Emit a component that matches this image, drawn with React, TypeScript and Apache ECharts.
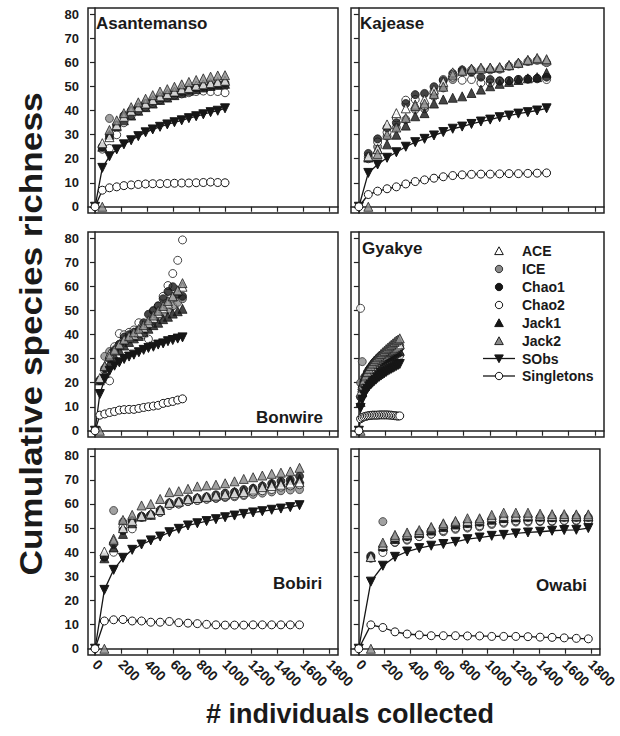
import React, { useEffect, useRef } from "react";
import * as echarts from "echarts";

const SERIES_NAMES = ["ACE", "ICE", "Chao1", "Chao2", "Jack1", "Jack2", "SObs", "Singletons"];
const X_TICKS = [0, 200, 400, 600, 800, 1000, 1200, 1400, 1600, 1800];
const Y_TICKS = [0, 10, 20, 30, 40, 50, 60, 70, 80];
const SITE_NAMES = ["Asantemanso", "Kajease", "Bonwire", "Gyakye", "Bobiri", "Owabi"];

// Asantemanso
const asanX = [0, 56, 111, 167, 222, 278, 333, 389, 444, 500, 556, 611, 667, 722, 778, 833, 889, 944, 1000];
const asanACE = [null, 26.5, 29, 34, 37.5, 40, 41.5, 43, 44.5, 46, 47, 48, 49, 49.5, 50.5, 51, 51.5, 52, 52.5];
const asanICE = [null, 25, 36.8, 33, 37, 39.5, 41, 42.5, 44, 45, 46, 47, 48, 48.5, 49, 49.5, 50, 50.5, 50.5];
const asanChao1 = [null, 25, 29.5, 34, 38, 40, 41.5, 43, 44, 45.5, 46.5, 47.5, 48, 48.8, 49.5, 50, 50.5, 51, 51.5];
const asanChao2 = [null, 24, 24.3, 30, 35, 38, 40, 41.5, 43, 44.5, 45.5, 46.5, 47, 47.5, 48, 48.2, 48, 48, 47.5];
const asanJack1 = [null, 25, 30, 33.5, 36, 38, 40, 41.5, 43, 44.5, 45.5, 46.5, 47.5, 48.3, 49, 49.7, 50.3, 50.8, 51.2];
const asanJack2 = [null, 0, 32, 36, 39, 41.5, 43.5, 45, 46.5, 48, 49, 50, 51, 52, 52.8, 53.5, 54.2, 54.7, 54.8];
const asanSObs = [0, 16.2, 21, 23.9, 26, 27.7, 29.4, 31, 32.2, 33.3, 34.3, 35.2, 36, 36.9, 37.7, 38.5, 39.4, 40, 41];
const asanSingle = [0, 6.9, 7.9, 8.3, 8.8, 9.1, 9.3, 9.5, 9.6, 9.6, 9.7, 9.8, 9.9, 9.9, 10, 10.1, 10.3, 10.1, 10];

// Kajease
const kajX = [0, 72, 143, 215, 286, 358, 430, 501, 573, 644, 716, 788, 859, 931, 1002, 1074, 1146, 1217, 1289, 1360, 1432];
const kajACE = [null, 21, 24, 34.3, 39, 41, 42.6, 44.7, 48.8, 52, 56, 57, 57.5, 57.5, 57.8, 58, 59, 60, 61, 61.5, 61];
const kajICE = [null, 21, 25, 29.4, 33, 36.3, 40.5, 40.8, 46, 49.5, 53, 56.4, 57, 57, 57, 57.3, 58.5, 59.5, 60.5, 61, 60];
const kajChao1 = [null, 22.2, 28.3, 32.9, 35, 43, 46.7, 47.2, 50, 52.6, 55.5, 57, 56, 54, 53, 52.5, 52.5, 53, 53.2, 53.5, 54];
const kajChao2 = [null, 20, 27, 31, 37, 44.4, 44.7, 42, 48, 53, 54, 52.7, 53, 51.6, 51.6, 52.3, 52.5, 53, 53.2, 53.3, 53];
const kajJack1 = [null, 20.5, 24, 26, 30, 33.8, 37.7, 39, 43, 44.7, 45.4, 46, 47.4, 48.8, 50.2, 51.2, 52, 52.8, 53.5, 54, 55.8];
const kajJack2 = [null, 0, 22, 30, 33, 37, 42, 43, 47, 50, 55, 56.5, 57.5, 58, 58, 58.2, 59, 60, 61.2, 62, 61.5];
const kajSObs = [0, 14.1, 17.6, 20.4, 22.7, 25, 26.9, 28.3, 29.7, 31.1, 32.5, 33.4, 34.5, 35.5, 36.3, 37.3, 38, 38.8, 39.4, 40.1, 41];
const kajSingle = [0, 5.1, 6.5, 7.5, 8.3, 9.5, 10.5, 11.2, 11.9, 12.5, 13, 13.3, 13.5, 13.6, 13.6, 13.7, 13.8, 13.8, 13.9, 14, 14.1];

// Bonwire
const bonX = [0, 37, 75, 112, 150, 187, 224, 262, 299, 337, 374, 411, 449, 486, 524, 561, 598, 636, 673];
const bonACE = [null, 22, 27, 32, 34, 36, 38, 39, 40, 41, 43, 45, 47, 49, 51, 53, 56, 58.5, 60];
const bonICE = [null, 21, 31, 33, 34, 36, 38, 39, 40, 41, 42.5, 44, 46, 47.5, 49, 50.5, 52, 53.5, 55];
const bonChao1 = [null, 21, 26, 30, 33.5, 36, 39, 40, 41, 42, 45, 48.5, 50, 52, 55, 58, 60, 57, 56];
const bonChao2 = [null, 21, 25, 20.8, 35, 40.5, 40, 41, 42, 45, 40, 38.2, 50, 52, 56, 60.5, 65.5, 71, 79.5];
const bonJack1 = [null, 21, 24, 28, 31, 33.5, 35.5, 37, 38.5, 39.5, 41, 42.5, 44, 45, 46.5, 47.5, 48.8, 49.8, 50.8];
const bonJack2 = [null, 0, 27, 31, 33.5, 36, 38, 39.5, 41, 42.5, 44, 46, 48, 50, 52, 54, 56, 58.5, 61.5];
const bonSObs = [0, 15.3, 21.6, 25, 27.1, 28.5, 29.9, 30.9, 31.7, 32.7, 33.7, 34.5, 35, 35.9, 36.4, 37.3, 37.8, 38.4, 38.9];
const bonSingle = [0, 6.5, 7, 7.6, 8, 8.6, 8.8, 8.9, 8.9, 9.3, 9.7, 10, 10.3, 10.6, 11.4, 11.8, 12.2, 12.8, 13.3];

// Gyakye
const gyaX = [0, 13, 26, 39, 52, 65, 78, 91, 104, 117, 130, 143, 156, 169, 182, 195, 208, 221, 234, 247, 260, 273, 286, 299, 312];
const gyaACE = [null, 16, 19, 21, 22.5, 24, 25, 26, 27, 28, 28.8, 29.5, 30.2, 30.8, 31.3, 31.8, 32.3, 32.8, 33.2, 33.6, 34, 34.5, 35, 35.5, 36];
const gyaICE = [null, 20, 28.8, 22, 23, 24.5, 25.5, 26.5, 27.5, 28.3, 29, 29.7, 30.3, 31, 31.5, 32, 32.5, 33, 33.4, 33.8, 34.2, 34.6, 35, 35.4, 35.5];
const gyaChao1 = [null, 14, 18, 20.5, 22.5, 24, 25.5, 26.5, 27.5, 28.5, 29.3, 30, 30.7, 31.3, 31.8, 32.2, 32.6, 33, 33.3, 33.6, 33.8, 34, 34.2, 34.3, 34.5];
const gyaChao2 = [null, 51, 17, 20, 22, 23.5, 24.5, 25.5, 26.3, 27, 27.7, 28.3, 28.8, 29.2, 29.6, 30, 30.3, 30.5, 30.7, 30.8, 31, 31, 31.2, 31.3, 31.4];
const gyaJack1 = [null, 12, 16, 18.5, 20.5, 22, 23.2, 24.2, 25.2, 26, 26.8, 27.5, 28.2, 28.8, 29.3, 29.8, 30.3, 30.7, 31.1, 31.5, 31.9, 32.3, 32.6, 33, 33.3];
const gyaJack2 = [null, 0, 18, 21, 23, 24.5, 25.8, 27, 28, 29, 29.8, 30.6, 31.3, 32, 32.7, 33.3, 34, 34.6, 35.2, 35.8, 36.4, 37, 37.6, 38, 38.5];
const gyaSObs = [0, 9.5, 13, 15, 16.5, 17.5, 18.5, 19.3, 20, 20.7, 21.3, 22, 22.5, 23, 23.5, 24, 24.5, 25, 25.4, 25.8, 26.2, 26.6, 27, 27.4, 27.8];
const gyaSingle = [0, 5, 5.5, 5.8, 6, 6.2, 6.3, 6.4, 6.5, 6.5, 6.5, 6.5, 6.6, 6.6, 6.6, 6.6, 6.6, 6.6, 6.5, 6.5, 6.4, 6.3, 6.2, 6.1, 6.2];

// Bobiri
const bobX = [0, 72, 143, 215, 286, 358, 429, 501, 572, 644, 715, 787, 858, 930, 1001, 1073, 1144, 1216, 1287, 1359, 1430, 1502, 1573];
const bobACE = [null, 40.3, 45.6, 50, 53, 55, 56, 57.5, 60.5, 61, 62, 62.5, 63, 63.5, 64, 64.5, 65, 66, 67, 67.5, 68, 68.5, 69];
const bobICE = [null, 38, 57.3, 52.5, 53, 54.5, 55.5, 56.5, 59.5, 60, 61, 61.5, 62, 62.3, 62.7, 63, 63.5, 64, 64.5, 65, 65.5, 65.8, 66];
const bobChao1 = [null, 38, 43.5, 49, 53, 55, 55.5, 57.5, 60.5, 61, 62, 62.5, 63, 63.8, 64.5, 65, 66, 66.5, 67.5, 68.5, 69.5, 70, 71.5];
const bobChao2 = [null, 38.5, 40, 50.4, 49.7, 54.5, 55.5, 56.6, 59.4, 60, 61, 61.5, 62, 62.5, 63, 63.5, 64, 65, 65.5, 66, 67, 67.5, 68];
const bobJack1 = [null, 37.5, 42, 47.6, 52, 54.8, 55.5, 57.5, 60.5, 61, 62, 62.5, 63, 63.5, 64, 65, 65.5, 66.5, 67.5, 68.5, 69, 70, 70.5];
const bobJack2 = [null, 0, 45, 53.4, 55.5, 59.4, 60, 62.1, 64.9, 65.3, 66.3, 67.3, 67.7, 68, 68.6, 69.4, 70.4, 71.1, 71.8, 72.5, 73, 73.5, 75];
const bobSObs = [0, 24.4, 32.7, 37.7, 41, 43.2, 44.9, 46.5, 48.3, 49.7, 51.1, 52, 52.9, 53.7, 54.5, 55.2, 55.9, 56.5, 57, 57.6, 58.1, 58.7, 59.5];
const bobSingle = [0, 11.5, 12, 12.1, 11.5, 11.5, 11, 11, 11.3, 10.8, 10.6, 10.4, 10.1, 9.9, 9.8, 9.8, 9.8, 9.9, 9.9, 9.9, 9.9, 9.9, 9.9];

// Owabi
const owaX = [0, 94, 187, 281, 375, 469, 562, 656, 750, 843, 937, 1031, 1124, 1218, 1312, 1406, 1499, 1593, 1687, 1780];
const owaACE = [null, 38, 43, 46.5, 47.5, 48.5, 50, 51.5, 52.5, 53, 53.5, 54.5, 55, 55.2, 55.3, 55.2, 55, 55, 55, 55];
const owaICE = [null, 37.5, 52.7, 44, 45, 46.5, 47.5, 48.5, 49.5, 50, 50.5, 51.5, 52, 52.5, 52.5, 52.7, 52.7, 53, 53, 53];
const owaChao1 = [null, 38.5, 42, 45.5, 46.5, 48, 49, 50.5, 51.5, 52, 52.5, 53.5, 54, 54.5, 54.5, 54.5, 54.3, 54.5, 54.5, 54.5];
const owaChao2 = [null, 38, 39.9, 44.2, 45.4, 46.5, 47.5, 49, 50, 50.5, 51, 52, 52.5, 53, 53, 53, 53, 53.2, 53.3, 53];
const owaJack1 = [null, 38.1, 42.5, 45.5, 47, 48, 49, 50.5, 51.5, 52.2, 52.8, 53.5, 54.2, 54.5, 54.8, 54.8, 54.7, 54.8, 54.8, 54.8];
const owaJack2 = [null, 0, 44, 47.2, 48.2, 49.2, 50.5, 52, 53, 54.1, 54.1, 55.5, 56.4, 56.4, 56.4, 56, 55.8, 55.8, 55.7, 55.7];
const owaSObs = [0, 27.8, 34.4, 38.1, 40.3, 41.7, 42.7, 43.4, 44.3, 45.4, 46.1, 46.8, 47.2, 47.8, 48.2, 48.5, 48.9, 49.2, 49.3, 50];
const owaSingle = [0, 9.9, 8.8, 7, 6.1, 5.7, 5.4, 5.4, 5.4, 5.3, 5.3, 5.1, 5.1, 5.1, 5, 4.8, 4.7, 4.5, 4.3, 4.1];

const SITES = [
  { x: asanX, ACE: asanACE, ICE: asanICE, Chao1: asanChao1, Chao2: asanChao2, Jack1: asanJack1, Jack2: asanJack2, SObs: asanSObs, Singletons: asanSingle },
  { x: kajX, ACE: kajACE, ICE: kajICE, Chao1: kajChao1, Chao2: kajChao2, Jack1: kajJack1, Jack2: kajJack2, SObs: kajSObs, Singletons: kajSingle },
  { x: bonX, ACE: bonACE, ICE: bonICE, Chao1: bonChao1, Chao2: bonChao2, Jack1: bonJack1, Jack2: bonJack2, SObs: bonSObs, Singletons: bonSingle },
  { x: gyaX, ACE: gyaACE, ICE: gyaICE, Chao1: gyaChao1, Chao2: gyaChao2, Jack1: gyaJack1, Jack2: gyaJack2, SObs: gyaSObs, Singletons: gyaSingle },
  { x: bobX, ACE: bobACE, ICE: bobICE, Chao1: bobChao1, Chao2: bobChao2, Jack1: bobJack1, Jack2: bobJack2, SObs: bobSObs, Singletons: bobSingle },
  { x: owaX, ACE: owaACE, ICE: owaICE, Chao1: owaChao1, Chao2: owaChao2, Jack1: owaJack1, Jack2: owaJack2, SObs: owaSObs, Singletons: owaSingle },
];

const FONT = "'Liberation Sans', Arial, Helvetica, sans-serif";
const INK = "#161616";
const GRAY = "#8a8a8a";

const GRIDS = [
  { left: 88, top: 8, width: 250, height: 205 },
  { left: 351, top: 8, width: 253, height: 205 },
  { left: 88, top: 232, width: 250, height: 205 },
  { left: 351, top: 232, width: 253, height: 205 },
  { left: 88, top: 449, width: 250, height: 206 },
  { left: 351, top: 449, width: 253, height: 206 },
];

const TITLE_POS = [
  { x: 96, y: 15 },
  { x: 360, y: 15 },
  { x: 256, y: 409 },
  { x: 362, y: 240 },
  { x: 273, y: 575 },
  { x: 536, y: 577 },
];

const STYLE: Record<string, any> = {
  ACE: { symbol: "triangle", size: 9, fill: "#ffffff", stroke: INK },
  ICE: { symbol: "circle", size: 8, fill: GRAY, stroke: "#333" },
  Chao1: { symbol: "circle", size: 8, fill: INK, stroke: INK },
  Chao2: { symbol: "circle", size: 8, fill: "#ffffff", stroke: INK },
  Jack1: { symbol: "triangle", size: 9, fill: INK, stroke: INK },
  Jack2: { symbol: "triangle", size: 9, fill: GRAY, stroke: "#222" },
  SObs: { symbol: "triangle", size: 9, fill: INK, stroke: INK, rotate: 180 },
  Singletons: { symbol: "circle", size: 8, fill: "#ffffff", stroke: INK },
};

const DRAW_ORDER = ["ICE", "Chao2", "Chao1", "Jack1", "ACE", "Jack2", "SObs", "Singletons"];

function buildOption() {
  const grid = GRIDS.map((g) => ({ ...g, show: true, borderColor: "#222", borderWidth: 1.5, backgroundColor: "#fff" }));
  const xAxis = GRIDS.map((g, i) => {
    const right = i % 2 === 1;
    const bottom = i >= 4;
    return {
      type: "value",
      gridIndex: i,
      min: right ? -60 : -54,
      max: right ? 1870 : 1869,
      splitLine: { show: false },
      axisLine: { show: true, lineStyle: { color: "#222", width: 1.5 } },
      axisTick: { show: true, customValues: X_TICKS, length: 5, lineStyle: { color: "#222", width: 1.2 } },
      axisLabel: {
        show: bottom,
        customValues: X_TICKS,
        formatter: (v: number) => String(v),
        rotate: -45,
        margin: 7,
        fontSize: 14,
        fontWeight: "bold",
        fontFamily: FONT,
        color: "#1a1a1a",
      },
    };
  });
  const yAxis = GRIDS.map((g, i) => {
    const left = i % 2 === 0;
    return {
      type: "value",
      gridIndex: i,
      min: -2.6,
      max: 82.8,
      splitLine: { show: false },
      axisLine: { show: true, lineStyle: { color: "#222", width: 1.5 } },
      axisTick: { show: true, customValues: Y_TICKS, length: 5, lineStyle: { color: "#222", width: 1.2 } },
      axisLabel: {
        show: left,
        customValues: Y_TICKS,
        formatter: (v: number) => String(v),
        margin: 9,
        fontSize: 13,
        fontWeight: "bold",
        fontFamily: FONT,
        color: "#1a1a1a",
      },
    };
  });

  const series: any[] = [];
  SITES.forEach((site: any, gi) => {
    DRAW_ORDER.forEach((name) => {
      const st = STYLE[name];
      const ys: (number | null)[] = site[name];
      const data = site.x
        .map((x: number, k: number) => (ys[k] === null || ys[k] === undefined ? null : [x, ys[k]]))
        .filter((d: any) => d !== null);
      const isLine = name === "SObs" || name === "Singletons";
      series.push({
        name,
        type: isLine ? "line" : "scatter",
        xAxisIndex: gi,
        yAxisIndex: gi,
        data,
        clip: false,
        symbol: st.symbol,
        symbolSize: st.size,
        symbolRotate: st.rotate || 0,
        showSymbol: true,
        itemStyle: { color: st.fill, borderColor: st.stroke, borderWidth: 1 },
        lineStyle: isLine ? { color: INK, width: 1.3 } : undefined,
        emphasis: { disabled: true },
        z: 3,
      });
    });
  });

  const graphic: any[] = [];
  SITE_NAMES.forEach((n, i) => {
    graphic.push({
      type: "text",
      x: TITLE_POS[i].x,
      y: TITLE_POS[i].y,
      style: { text: n, fontSize: 17, fontWeight: "bold", fontFamily: FONT, fill: "#1a1a1a", textVerticalAlign: "top" },
      z: 10,
    });
  });

  // legend inside Gyakye panel
  const rowsY = [251, 269, 287, 305, 323, 341, 358.5, 376];
  const symX = 499;
  SERIES_NAMES.forEach((n, k) => {
    const st = STYLE[n];
    const cy = rowsY[k];
    if (n === "SObs" || n === "Singletons") {
      graphic.push({ type: "line", shape: { x1: 483, y1: cy, x2: 515, y2: cy }, style: { stroke: INK, lineWidth: 1.3 }, z: 10 });
    }
    if (st.symbol === "circle") {
      graphic.push({ type: "circle", shape: { cx: symX, cy, r: 3.7 }, style: { fill: st.fill, stroke: st.stroke, lineWidth: 1 }, z: 11 });
    } else if (st.rotate === 180) {
      graphic.push({
        type: "polygon",
        shape: { points: [[symX - 4.3, cy - 3.6], [symX + 4.3, cy - 3.6], [symX, cy + 4.2]] },
        style: { fill: st.fill, stroke: st.stroke, lineWidth: 1 },
        z: 11,
      });
    } else {
      graphic.push({
        type: "polygon",
        shape: { points: [[symX, cy - 4.2], [symX + 4.3, cy + 3.6], [symX - 4.3, cy + 3.6]] },
        style: { fill: st.fill, stroke: st.stroke, lineWidth: 1 },
        z: 11,
      });
    }
    graphic.push({
      type: "text",
      x: 522,
      y: cy,
      style: { text: n, fontSize: 14, fontWeight: "bold", fontFamily: FONT, fill: "#1a1a1a", textVerticalAlign: "middle" },
      z: 11,
    });
  });

  graphic.push({
    type: "text",
    x: 31,
    y: 334,
    rotation: Math.PI / 2,
    scaleX: 1.1,
    style: {
      text: "Cumulative species richness",
      fontSize: 32,
      fontWeight: "bold",
      fontFamily: FONT,
      fill: "#1a1a1a",
      textAlign: "center",
      textVerticalAlign: "middle",
    },
    z: 10,
  });
  graphic.push({
    type: "text",
    x: 350,
    y: 714,
    style: {
      text: "# individuals collected",
      fontSize: 27,
      fontWeight: "bold",
      fontFamily: FONT,
      fill: "#1a1a1a",
      textAlign: "center",
      textVerticalAlign: "middle",
    },
    z: 10,
  });

  return {
    animation: false,
    backgroundColor: "#ffffff",
    grid,
    xAxis,
    yAxis,
    series,
    graphic,
  };
}

export default function App() {
  const ref = useRef<HTMLDivElement>(null);
  useEffect(() => {
    document.body.style.margin = "0";
    if (!ref.current) return;
    const chart = echarts.init(ref.current, null, { renderer: "svg" });
    chart.setOption(buildOption() as any);
    return () => chart.dispose();
  }, []);
  return <div ref={ref} style={{ width: 620, height: 736 }} />;
}
